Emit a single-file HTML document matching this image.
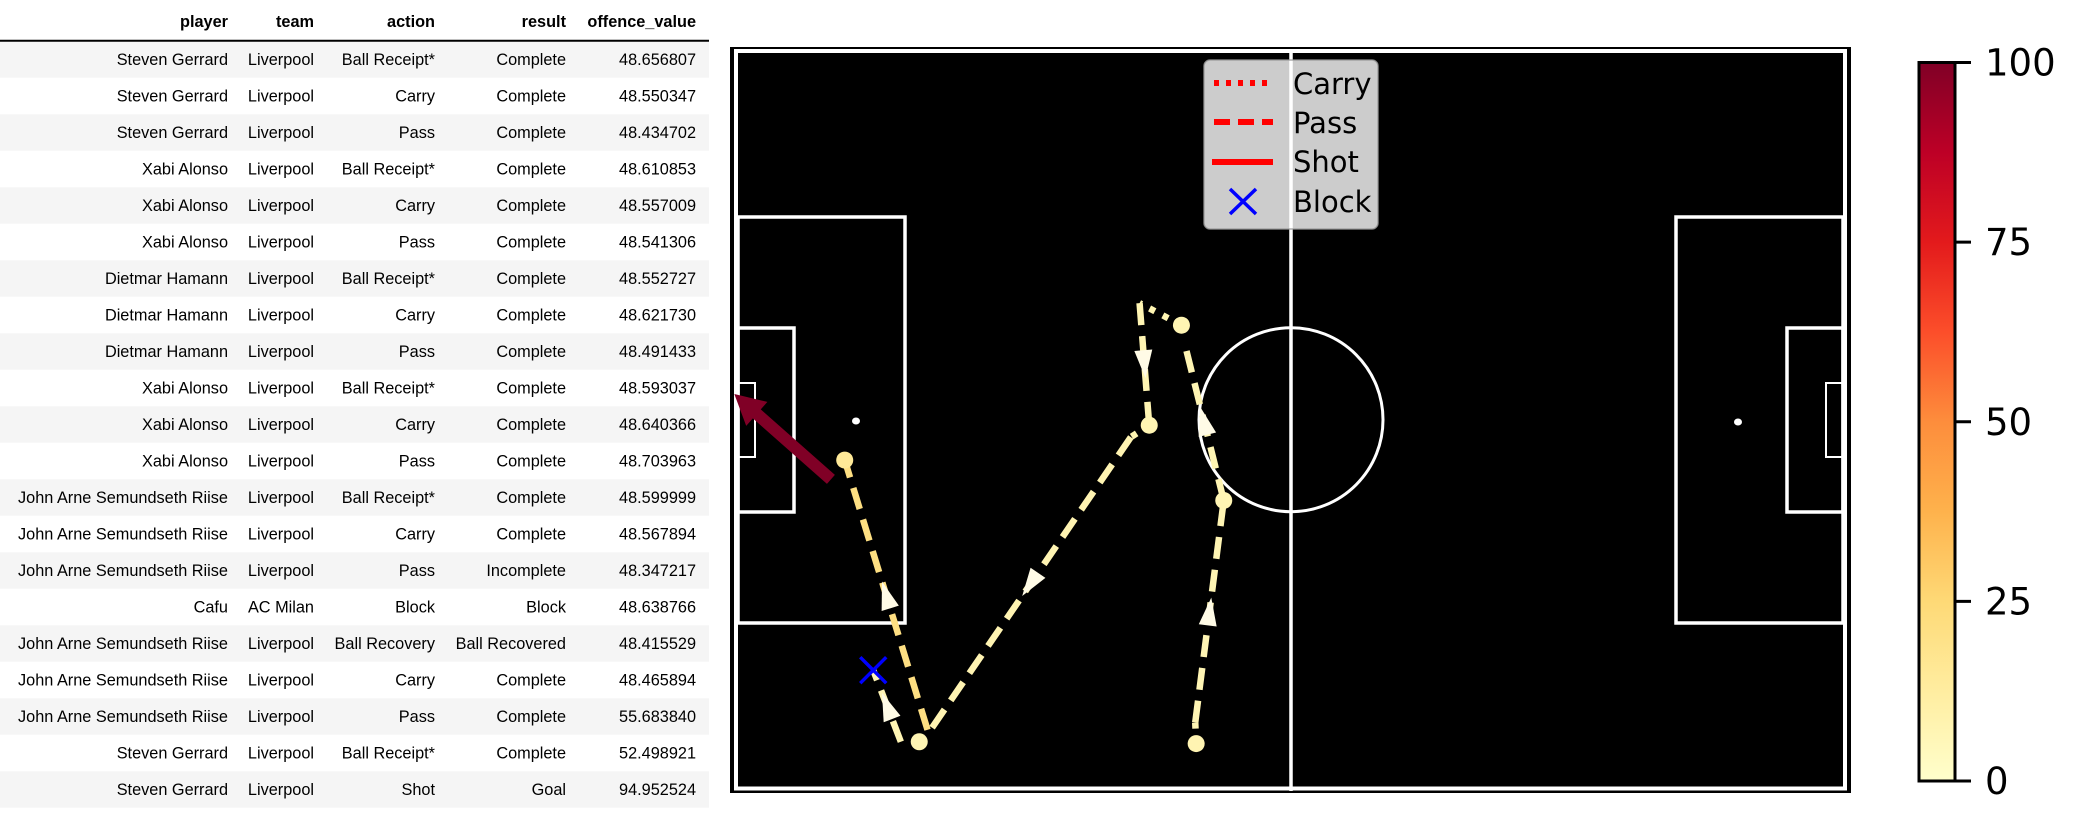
<!DOCTYPE html>
<html><head><meta charset="utf-8"><style>
html,body{margin:0;padding:0;background:#fff;}
svg{display:block}
.t{font-family:"Liberation Sans",Arial,sans-serif;font-size:16.3px;fill:#000;text-anchor:end;}
.h{font-weight:bold;}
.dv{font-family:"DejaVu Sans","Liberation Sans",sans-serif;}
</style></head><body>
<svg id="root" width="2092" height="836" viewBox="0 0 2092 836" xmlns="http://www.w3.org/2000/svg">
<defs>
<linearGradient id="ylorrd" x1="0" y1="1" x2="0" y2="0">
<stop offset="0" stop-color="#ffffcc"/><stop offset="0.125" stop-color="#ffeda0"/><stop offset="0.25" stop-color="#fed976"/><stop offset="0.375" stop-color="#feb24c"/><stop offset="0.5" stop-color="#fd8d3c"/><stop offset="0.625" stop-color="#fc4e2a"/><stop offset="0.75" stop-color="#e31a1c"/><stop offset="0.875" stop-color="#bd0026"/><stop offset="1" stop-color="#800026"/>
</linearGradient>
</defs>
<g id="table"></g>
<g id="pitch">
<rect x="730" y="47" width="1121" height="746" fill="#000"/>
<rect x="736" y="51" width="1109" height="737.5" fill="none" stroke="#fff" stroke-width="4"/>
<line x1="1291" y1="49" x2="1291" y2="791" stroke="#fff" stroke-width="3.5"/>
<ellipse cx="1291" cy="419.7" rx="92" ry="92" fill="none" stroke="#fff" stroke-width="3"/>
<rect x="738" y="217" width="167" height="406" fill="none" stroke="#fff" stroke-width="3.5"/>
<rect x="738" y="328" width="56" height="184" fill="none" stroke="#fff" stroke-width="3.5"/>
<rect x="738" y="383" width="17" height="74" fill="none" stroke="#fff" stroke-width="2"/>
<rect x="1676" y="217" width="167" height="406" fill="none" stroke="#fff" stroke-width="3.5"/>
<rect x="1787" y="328" width="56" height="184" fill="none" stroke="#fff" stroke-width="3.5"/>
<rect x="1826" y="383" width="17" height="74" fill="none" stroke="#fff" stroke-width="2"/>
<ellipse cx="856" cy="421" rx="4" ry="3.5" fill="#fff"/>
<ellipse cx="1738" cy="422" rx="4" ry="3.5" fill="#fff"/>
</g>
<g id="events"></g>
<g id="legend">
<rect x="1204" y="60" width="174" height="169" rx="6" fill="#fff" fill-opacity="0.8" stroke="#999" stroke-opacity="0.8" stroke-width="1.5"/>
<line x1="1214" y1="83" x2="1273" y2="83" stroke="#f00" stroke-width="6" stroke-dasharray="5,7"/>
<line x1="1214" y1="122" x2="1273" y2="122" stroke="#f00" stroke-width="6" stroke-dasharray="16,8"/>
<line x1="1212" y1="162" x2="1273" y2="162" stroke="#f00" stroke-width="6"/>
<path d="M1230,189 L1256,214 M1256,189 L1230,214" stroke="#00f" stroke-width="3.5"/>
<text class="dv" x="1293" y="94" font-size="29">Carry</text>
<text class="dv" x="1293" y="133" font-size="29">Pass</text>
<text class="dv" x="1293" y="172" font-size="29">Shot</text>
<text class="dv" x="1293" y="212" font-size="29">Block</text>
</g>
<g id="cbar">
<rect x="1919" y="62.5" width="36" height="718.5" fill="url(#ylorrd)" stroke="#000" stroke-width="3"/>
</g>
</svg>
<script>
// table data
const players=["Steven Gerrard","Steven Gerrard","Steven Gerrard","Xabi Alonso","Xabi Alonso","Xabi Alonso","Dietmar Hamann","Dietmar Hamann","Dietmar Hamann","Xabi Alonso","Xabi Alonso","Xabi Alonso","John Arne Semundseth Riise","John Arne Semundseth Riise","John Arne Semundseth Riise","Cafu","John Arne Semundseth Riise","John Arne Semundseth Riise","John Arne Semundseth Riise","Steven Gerrard","Steven Gerrard"];
const teams=["Liverpool","Liverpool","Liverpool","Liverpool","Liverpool","Liverpool","Liverpool","Liverpool","Liverpool","Liverpool","Liverpool","Liverpool","Liverpool","Liverpool","Liverpool","AC Milan","Liverpool","Liverpool","Liverpool","Liverpool","Liverpool"];
const actions=["Ball Receipt*","Carry","Pass","Ball Receipt*","Carry","Pass","Ball Receipt*","Carry","Pass","Ball Receipt*","Carry","Pass","Ball Receipt*","Carry","Pass","Block","Ball Recovery","Carry","Pass","Ball Receipt*","Shot"];
const results=["Complete","Complete","Complete","Complete","Complete","Complete","Complete","Complete","Complete","Complete","Complete","Complete","Complete","Complete","Incomplete","Block","Ball Recovered","Complete","Complete","Complete","Goal"];
const offence=["48.656807","48.550347","48.434702","48.610853","48.557009","48.541306","48.552727","48.621730","48.491433","48.593037","48.640366","48.703963","48.599999","48.567894","48.347217","48.638766","48.415529","48.465894","55.683840","52.498921","94.952524"];
const headers=["player","team","action","result","offence_value"];
// event data (pitch coords 120x80)
const segTypes=["carry","pass","pass","carry","pass","carry","pass","pass","carry","pass","shot"];
const segX0=[49.8,49.7,52.8,48.2,43.65,44.7,42.7,17.7,19.7,20.6,10.1];
const segY0=[75.3,73.0,48.8,29.7,27.3,40.6,41.9,75.1,75.1,73.8,46.5];
const segX1=[49.7,52.8,48.5,43.65,44.7,42.7,20.8,14.7,20.6,11.6,-0.4];
const segY1=[73.0,48.8,31.5,27.3,40.6,41.9,74.0,67.3,73.8,44.4,37.2];
const segValues=[48.56,48.43,48.54,48.62,48.49,48.64,48.70,48.35,48.47,55.68,94.95];
const dotX=[49.8,52.8,48.2,44.7,19.7,11.6];
const dotY=[75.3,48.8,29.7,40.6,75.1,44.4];
const dotValues=[48.66,48.61,48.55,48.59,48.60,52.50];
const blockX=[14.7];const blockY=[67.3];
const cbarTicks=[0,25,50,75,100];

const NS="http://www.w3.org/2000/svg";
function mk(tag,attrs,parent){const e=document.createElementNS(NS,tag);for(const k in attrs)e.setAttribute(k,attrs[k]);parent.appendChild(e);return e;}
const px=x=>738+x*9.2, py=y=>52.7+y*9.175;
const stops=[[255,255,204],[255,237,160],[254,217,118],[254,178,76],[253,141,60],[252,78,42],[227,26,28],[189,0,38],[128,0,38]];
function cmap(v){let t=Math.max(0,Math.min(1,(v-45)/50))*8;const i=Math.min(7,Math.floor(t)),f=t-i;const a=stops[i],b=stops[i+1];return `rgb(${a.map((c,k)=>Math.round(c+(b[k]-c)*f)).join(',')})`;}

// table
const tg=document.getElementById('table');
const colR=[228,314,435,566,696];
for(let i=0;i<players.length;i++){
  const yc=59.5+i*36.5;
  if(i%2===0){const r=mk('rect',{x:0,y:yc-18.25,width:709,height:36.5,fill:'#f5f5f5'},tg);
    
    }
  const vals=[players[i],teams[i],actions[i],results[i],offence[i]];
  vals.forEach((v,c)=>{const t=mk('text',{class:'t',x:colR[c],y:yc+5.5},tg);t.textContent=v;
    
    });
}
headers.forEach((h,c)=>{const t=mk('text',{class:'t h',x:colR[c],y:27},tg);t.textContent=h;
  
  });
const hl=mk('line',{x1:0,y1:40.7,x2:709,y2:40.7,stroke:'#000','stroke-width':2},tg);



// events
const eg=document.getElementById('events');
for(let i=0;i<segTypes.length;i++){
  const x0=px(segX0[i]),y0=py(segY0[i]),x1=px(segX1[i]),y1=py(segY1[i]),col=cmap(segValues[i]);
  if(segTypes[i]==='shot'){
    const dx=x1-x0,dy=y1-y0,L=Math.hypot(dx,dy),ux=dx/L,uy=dy/L,nx=-uy,ny=ux,hl2=30,hw=16,sw=6;
    const bx=x1-ux*hl2,by=y1-uy*hl2;
    const pts=[[x0+nx*sw,y0+ny*sw],[bx+nx*sw,by+ny*sw],[bx+nx*hw,by+ny*hw],[x1,y1],[bx-nx*hw,by-ny*hw],[bx-nx*sw,by-ny*sw],[x0-nx*sw,y0-ny*sw]];
    const p=mk('polygon',{points:pts.map(q=>q.join(',')).join(' '),fill:col},eg);
    
    
    continue;
  }
  const dash=segTypes[i]==='carry'?'6,9':'22,11';
  const l=mk('line',{x1:x0,y1:y0,x2:x1,y2:y1,stroke:col,'stroke-width':6.5,'stroke-dasharray':dash},eg);
  
  
  if(segTypes[i]==='pass'&&Math.hypot(x1-x0,y1-y0)>60){
    const mx=(x0+x1)/2,my=(y0+y1)/2,L=Math.hypot(x1-x0,y1-y0),ux=(x1-x0)/L,uy=(y1-y0)/L,nx=-uy,ny=ux;
    const tip=[mx+ux*14,my+uy*14],b1=[mx-ux*14+nx*9,my-uy*14+ny*9],b2=[mx-ux*14-nx*9,my-uy*14-ny*9];
    const a=mk('polygon',{points:[tip,b1,b2].map(q=>q.join(',')).join(' '),fill:'#fffbe6'},eg);
    
    
  }
}
for(let i=0;i<dotX.length;i++){
  const d=mk('ellipse',{cx:px(dotX[i]),cy:py(dotY[i]),rx:8.5,ry:8.5,fill:cmap(dotValues[i])},eg);
  
  
}
for(let i=0;i<blockX.length;i++){
  const x=px(blockX[i]),y=py(blockY[i]);
  const b=mk('path',{d:`M${x-13},${y-13} L${x+13},${y+13} M${x+13},${y-13} L${x-13},${y+13}`,stroke:'#00f','stroke-width':3.5},eg);
  
  
}
// colorbar ticks
const cg=document.getElementById('cbar');
cbarTicks.forEach(v=>{const y=781-(v/100)*718.5;
  const tk=mk('line',{x1:1955,y1:y,x2:1971,y2:y,stroke:'#000','stroke-width':3},cg);
  
  
  const t=mk('text',{class:'dv',x:1985,y:y+13,'font-size':37},cg);t.textContent=v;
  
  });
</script>
</body></html>
